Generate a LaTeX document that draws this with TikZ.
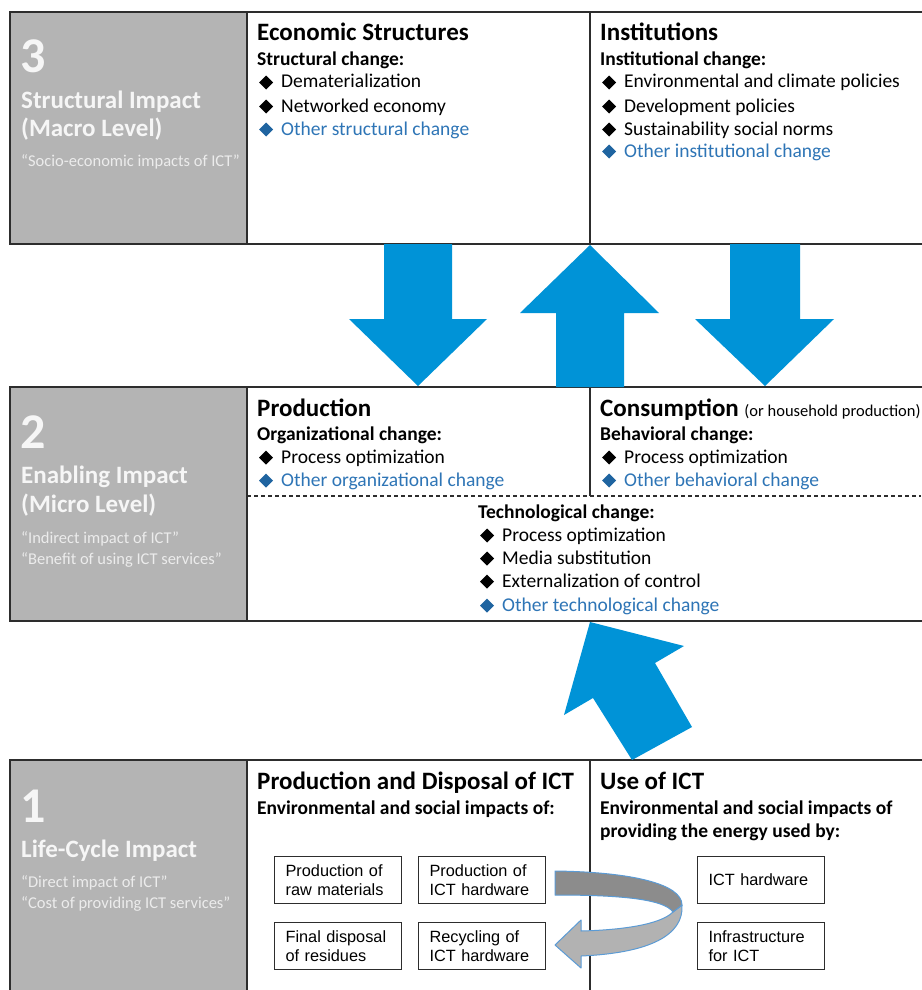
\documentclass[tikz,border=0pt]{standalone}
\usepackage{fontspec}
\setmainfont{Carlito}
\newfontfamily\arialf{Liberation Sans}
\definecolor{blu}{RGB}{0,147,215}
\definecolor{otxt}{RGB}{46,117,182}
\definecolor{odia}{RGB}{31,100,160}
\definecolor{grayp}{RGB}{180,180,180}
\definecolor{linec}{RGB}{45,45,45}
\definecolor{htxt}{RGB}{246,246,246}
\definecolor{qtxt}{RGB}{236,236,236}
\definecolor{bandd}{RGB}{140,140,140}
\definecolor{bandl}{RGB}{178,178,178}
\definecolor{bando}{RGB}{91,155,213}
\newcommand\itm[5][black]{%
  \fill[#1] (#3+8,#4-12.5) -- (#3+15,#4-5.5) -- (#3+8,#4+1.5) -- (#3+1,#4-5.5) -- cycle;
  \node[itemtxt,text=#1] (#2) at (#3+23,#4) {#5};}
\newcommand\oitm[4]{%
  \fill[odia] (#2+8,#3-12.5) -- (#2+15,#3-5.5) -- (#2+8,#3+1.5) -- (#2+1,#3-5.5) -- cycle;
  \node[itemtxt,text=otxt] (#1) at (#2+23,#3) {#4};}
\begin{document}
\begin{tikzpicture}[x=1pt,y=-1pt,
  panel/.style={draw=linec,line width=1.3pt},
  graybox/.style={fill=grayp,draw=linec,line width=1.3pt},
  bignum/.style={anchor=base west,inner sep=0pt,text=htxt,font=\fontsize{50}{50}\selectfont\bfseries},
  lvl/.style={anchor=base west,inner sep=0pt,text=htxt,font=\fontsize{25}{28}\selectfont\bfseries},
  quot/.style={anchor=base west,inner sep=0pt,text=qtxt,font=\fontsize{16.5}{18}\selectfont},
  ptitle/.style={anchor=base west,inner sep=0pt,font=\fontsize{25}{28}\selectfont\bfseries},
  subhd/.style={anchor=base west,inner sep=0pt,font=\fontsize{19.5}{22}\selectfont\bfseries},
  itemtxt/.style={anchor=base west,inner sep=0pt,font=\fontsize{19.5}{22}\selectfont},
  sbox/.style={draw=linec,line width=1.2pt,minimum width=127pt,minimum height=47pt,
    anchor=north west,text width=105pt,align=left,inner sep=0pt,
    font=\arialf\fontsize{16.3}{18.5}\selectfont},
  barrow/.style={fill=blu,draw=none},
  band/.style={draw=bando,line width=1pt,line join=round}
]
\useasboundingbox (0,0) rectangle (921,990);
\fill[white] (0,0) rectangle (921,990);

% ---------------- panel 3 ----------------
\draw[panel] (10,12) rectangle (930,244);
\draw[graybox] (10,12) rectangle (247,244);
\draw[panel] (590,12) -- (590,244);
\node[bignum] (n3) at (20,72) {3};
\node[lvl] (l3a) at (21,108) {Structural Impact};
\node[lvl] (l3b) at (21,136) {(Macro Level)};
\node[quot] (q3) at (21,166) {“Socio-economic impacts of ICT”};

\node[ptitle] (econ) at (257,41) {Economic Structures};
\node[subhd] (econs) at (257,66) {Structural change:};
\itm{e1}{258}{88}{Dematerialization}
\itm{e2}{258}{112}{Networked economy}
\oitm{e3}{258}{135}{Other structural change}

\node[ptitle] (inst) at (600,41) {Institutions};
\node[subhd] (insts) at (600,66) {Institutional change:};
\itm{i1}{601}{88}{Environmental and climate policies}
\itm{i2}{601}{112}{Development policies}
\itm{i3}{601}{135}{Sustainability social norms}
\oitm{i4}{601}{157}{Other institutional change}

% ---------------- panel 2 ----------------
\draw[panel] (10,387) rectangle (930,621);
\draw[graybox] (10,387) rectangle (247,621);
\draw[panel] (590,387) -- (590,496);
\draw[linec,line width=1.2pt,dash pattern=on 4pt off 3pt] (247,496) -- (921,496);
\node[bignum] (n2) at (20,448) {2};
\node[lvl] (l2a) at (21,483) {Enabling Impact};
\node[lvl] (l2b) at (21,512) {(Micro Level)};
\node[quot] (q2a) at (21,543) {“Indirect impact of ICT”};
\node[quot] (q2b) at (21,564) {“Benefit of using ICT services”};

\node[ptitle] (prod) at (257,416) {Production};
\node[subhd] (prods) at (257,440) {Organizational change:};
\itm{p1}{258}{463}{Process optimization}
\oitm{p2}{258}{486}{Other organizational change}

\node[ptitle] (cons) at (600,416) {Consumption\ \fontsize{16.5}{18}\selectfont\mdseries(or household production)};
\node[subhd] (conss) at (600,440) {Behavioral change:};
\itm{c1}{601}{463}{Process optimization}
\oitm{c2}{601}{486}{Other behavioral change}

\node[subhd] (tech) at (478,518) {Technological change:};
\itm{t1}{479}{541}{Process optimization}
\itm{t2}{479}{564}{Media substitution}
\itm{t3}{479}{587}{Externalization of control}
\oitm{t4}{479}{611}{Other technological change}

% ---------------- panel 1 ----------------
\draw[panel] (10,760) rectangle (930,1000);
\draw[graybox] (10,760) rectangle (247,1000);
\draw[panel] (590,760) -- (590,1000);
\node[bignum] (n1) at (20,822) {1};
\node[lvl] (l1a) at (21,857) {Life-Cycle Impact};
\node[quot] (q1a) at (21,887) {“Direct impact of ICT”};
\node[quot] (q1b) at (21,908) {“Cost of providing ICT services”};

\node[ptitle] (pd) at (257,789) {Production and Disposal of ICT};
\node[subhd] (pds) at (257,814) {Environmental and social impacts of:};
\node[ptitle] (use) at (600,789) {Use of ICT};
\node[subhd] (uses1) at (600,814) {Environmental and social impacts of};
\node[subhd] (uses2) at (600,837) {providing the energy used by:};

\node[sbox] (raw) at (274,856) {Production of\\raw materials};
\node[sbox] (hw) at (418,856) {Production of\\ICT hardware};
\node[sbox] (disp) at (274,922) {Final disposal\\of residues};
\node[sbox] (rec) at (418,922) {Recycling of\\ICT hardware};
\node[sbox] (uhw) at (697,856) {ICT hardware};
\node[sbox] (uinf) at (697,922) {Infrastructure\\for ICT};

% curved 3D arrow
\filldraw[band,fill=bandl] (673,912) .. controls (660,925) and (620,930) .. (581,931)
  -- (581,920) -- (555,945) -- (581,968) -- (581,956)
  .. controls (650,953) and (684,935) .. (682,905) -- cycle;
\filldraw[band,fill=bandd] (555,871) .. controls (632,872) and (682,884) .. (682,905)
  -- (673,912) .. controls (664,899) and (620,895) .. (555,895) -- cycle;

% ---------------- blue block arrows ----------------
\fill[barrow] (384,244) -- (452,244) -- (452,319) -- (487,319) -- (418,386) -- (349,319) -- (384,319) -- cycle;
\fill[barrow] (590,245) -- (659,313) -- (624,313) -- (624,387) -- (556,387) -- (556,313) -- (520,313) -- cycle;
\fill[barrow] (730,244) -- (800,244) -- (800,319) -- (834,319) -- (765,386) -- (695,319) -- (730,319) -- cycle;
\fill[barrow] (590,622) -- (684,646) -- (655,663) -- (692,727) -- (632,760) -- (593,698) -- (564,715) -- cycle;
\end{tikzpicture}
\end{document}
